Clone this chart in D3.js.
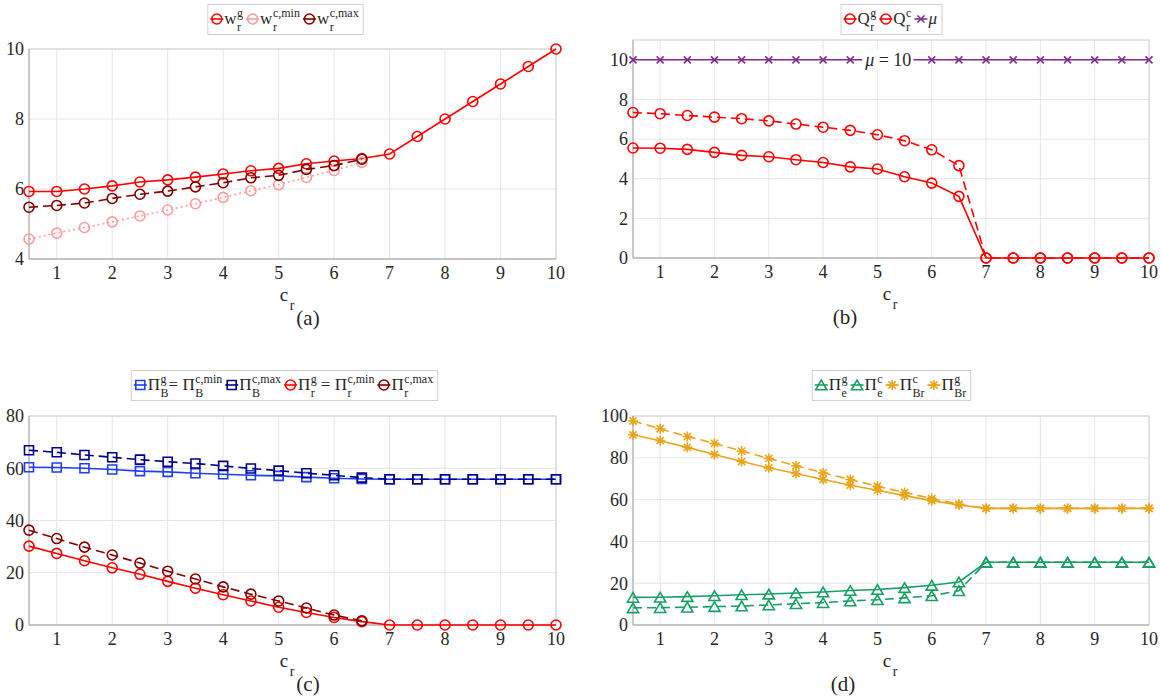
<!DOCTYPE html>
<html>
<head>
<meta charset="utf-8">
<title>Four panels vs c_r</title>
<style>
  body { margin: 0; background: #fff; font-family: "Liberation Serif", serif; }
  #chart text { font-family: "Liberation Serif", "DejaVu Serif", serif; fill: #262626; }
</style>
</head>
<body>
<svg id="chart" width="1161" height="700" font-family="Liberation Serif, serif"></svg>
<script src="https://d3js.org/d3.v7.min.js"></script>
<script>
// x values shared by every panel
var cr = [0.5,1,1.5,2,2.5,3,3.5,4,4.5,5,5.5,6,6.5,7,7.5,8,8.5,9,9.5,10];
var xTickVals = [1,2,3,4,5,6,7,8,9,10];

// (a) w_r
var wG    = [5.93,5.93,6.0,6.09,6.2,6.26,6.34,6.43,6.52,6.59,6.72,6.8,6.87,7.0,7.5,8,8.5,9,9.5,10];
var wCmin = [4.57,4.74,4.9,5.06,5.23,5.4,5.58,5.76,5.95,6.12,6.33,6.53,6.76];
var wCmax = [5.48,5.53,5.6,5.73,5.85,5.94,6.06,6.18,6.32,6.39,6.56,6.67,6.85];
var yTicksA = [4,6,8,10];

// (b) Q_r and mu
var qG = [5.55,5.54,5.48,5.33,5.18,5.11,4.96,4.82,4.6,4.49,4.1,3.78,3.11,0,0,0,0,0,0,0];
var qC = [7.34,7.28,7.19,7.11,7.03,6.92,6.76,6.6,6.44,6.22,5.92,5.46,4.66,0,0,0,0,0,0,0];
var mu = [10,10,10,10,10,10,10,10,10,10,10,10,10,10,10,10,10,10,10,10];
var yTicksB = [0,2,4,6,8,10];

// (c) profits
var piBg    = [60.4,60.3,60.0,59.5,58.9,58.6,58.1,57.7,57.3,57.1,56.6,56.2,55.9,55.8,55.8,55.8,55.8,55.8,55.8,55.8];
var piBcmax = [66.9,66.1,65.1,64.2,63.3,62.5,61.8,60.9,59.9,59.1,58.1,57.3,56.4,55.8,55.8,55.8,55.8,55.8,55.8,55.8];
var piRg    = [30.2,27.4,24.6,21.9,19.4,16.7,14.1,11.6,9.2,6.8,4.8,2.9,1.3,0,0,0,0,0,0,0];
var piRcmax = [36.3,33.1,29.8,26.8,23.7,20.6,17.6,14.6,11.8,9.2,6.5,3.8,1.6];
var yTicksC = [0,20,40,60,80];

// (d) profits
var piEg  = [13.2,13.3,13.6,14.0,14.5,14.8,15.3,15.8,16.5,17.0,17.9,19.0,20.6,30,30,30,30,30,30,30];
var piEc  = [8.2,8.3,8.5,8.8,9.1,9.6,10.2,10.7,11.5,12.1,13.0,14.0,16.4,30,30,30,30,30,30,30];
var piBrC = [97.6,93.9,90.2,86.9,83.2,79.7,76.2,72.8,69.6,66.4,63.4,60.5,57.8,55.8,55.8,55.8,55.8,55.8,55.8,55.8];
var piBrG = [91.0,88.2,85.0,81.6,78.2,75.2,72.5,69.6,66.9,64.5,61.9,59.5,57.4,55.8,55.8,55.8,55.8,55.8,55.8,55.8];
var yTicksD = [0,20,40,60,80,100];

var FONT = "'Liberation Serif', 'DejaVu Serif', serif";
var svg = d3.select("#chart");

var markerPaths = {
  circle: d3.symbol(d3.symbolCircle, Math.PI * 25)(),
  square: "M-4.5,-4.5h9v9h-9z",
  triangle: "M0,-4.8L5.6,4.8L-5.6,4.8Z",
  star: "M-5,0H5M0,-5V5M-3.6,-3.6L3.6,3.6M-3.6,3.6L3.6,-3.6",
  cross: "M-3.5,-3.5L3.5,3.5M-3.5,3.5L3.5,-3.5"
};

function dashOf(s) {
  if (s.dash == "dashed") return "9,5";
  if (s.dash == "dotted") return "2,3";
  return null;
}

function txt(sel, size) {
  return sel.append("text").style("font-family", FONT).style("font-size", size + "px").style("fill", "#262626");
}

function drawPanel(p) {
  var g = svg.append("g");
  var x = d3.scaleLinear().domain([0.5, 10]).range([p.left, p.right]);
  var y = d3.scaleLinear().domain(p.yDomain).range([p.bottom, p.top]);

  // grid
  g.selectAll(".gx").data(xTickVals).enter().append("line")
    .attr("x1", d => x(d)).attr("x2", d => x(d))
    .attr("y1", p.top).attr("y2", p.bottom)
    .attr("stroke", "#e6e6e6").attr("stroke-width", 1);
  g.selectAll(".gy").data(p.yTicks).enter().append("line")
    .attr("x1", p.left).attr("x2", p.right)
    .attr("y1", d => y(d)).attr("y2", d => y(d))
    .attr("stroke", "#e6e6e6").attr("stroke-width", 1);

  // frame
  g.append("rect")
    .attr("x", p.left).attr("y", p.top)
    .attr("width", p.right - p.left).attr("height", p.bottom - p.top)
    .attr("fill", "none").attr("stroke", "#d0d0d0");
  g.append("path")
    .attr("d", "M" + p.left + "," + p.top + "V" + p.bottom + "H" + p.right)
    .attr("fill", "none").attr("stroke", "#a8a8a8").attr("stroke-width", 1);

  // tick labels
  xTickVals.forEach(function(v) {
    txt(g, 18).attr("x", x(v)).attr("y", p.bottom + 20)
      .attr("text-anchor", "middle").text(v);
  });
  p.yTicks.forEach(function(v) {
    txt(g, 18).attr("x", p.left - 5).attr("y", y(v)).attr("dy", "0.35em")
      .attr("text-anchor", "end").text(v);
  });

  // series
  p.series.forEach(function(s) {
    var pts = s.values.map((v, i) => [cr[i], v]);
    g.append("path").datum(pts)
      .attr("d", d3.line().x(d => x(d[0])).y(d => y(d[1])))
      .attr("fill", "none").attr("stroke", s.color)
      .attr("stroke-width", 1.6)
      .attr("stroke-dasharray", dashOf(s));
    g.selectAll(null).data(pts).enter().append("path")
      .attr("transform", d => "translate(" + x(d[0]) + "," + y(d[1]) + ")")
      .attr("d", markerPaths[s.marker])
      .attr("fill", "none").attr("stroke", s.color).attr("stroke-width", 1.6);
  });

  // inline label on a line (mu = 10)
  if (p.lineLabel) {
    var lt = txt(g, 18)
      .attr("x", x(p.lineLabel.at)).attr("y", y(p.lineLabel.value)).attr("dy", "0.35em")
      .attr("text-anchor", "middle");
    lt.append("tspan").style("font-style", "italic").text("\u03bc");
    lt.append("tspan").text(" = 10");
    var bb = lt.node().getBBox();
    g.insert("rect", function() { return lt.node(); })
      .attr("x", bb.x - 2).attr("y", bb.y).attr("width", bb.width + 4).attr("height", bb.height)
      .attr("fill", "#fff");
  }

  // x label c_r and caption
  txt(g, 19).attr("x", p.labelX).attr("y", p.bottom + 42)
    .attr("text-anchor", "middle").text("c");
  txt(g, 14).attr("x", p.labelX + 8).attr("y", p.bottom + 51)
    .attr("text-anchor", "middle").text("r");
  txt(g, 21).attr("x", p.captionX).attr("y", p.bottom + 66)
    .attr("text-anchor", "middle").text(p.caption);

  drawLegend(p.legendX, p.legendTop, p.series);
}

function drawLegend(cx, top, series) {
  var lg = svg.append("g");
  var cur = 3;
  series.forEach(function(s, k) {
    if (k > 0) cur += 3;
    lg.append("line").attr("x1", cur).attr("x2", cur + 13).attr("y1", 15).attr("y2", 15)
      .attr("stroke", s.color).attr("stroke-width", 1.6);
    lg.append("path").attr("transform", "translate(" + (cur + 6.5) + ",15)")
      .attr("d", markerPaths[s.marker])
      .attr("fill", "none").attr("stroke", s.color).attr("stroke-width", 1.6);
    cur += 14;
    s.label.forEach(function(seg) {
      cur += seg.gap || 0;
      var t = txt(lg, 17).attr("x", cur).attr("y", 20)
        .style("font-style", seg.italic ? "italic" : null).text(seg.b);
      cur += t.node().getComputedTextLength() + 0.5;
      var w = 0;
      if (seg.sup) {
        var t1 = txt(lg, 12).attr("x", cur).attr("y", 13).text(seg.sup);
        w = Math.max(w, t1.node().getComputedTextLength());
      }
      if (seg.sub) {
        var t2 = txt(lg, 12).attr("x", cur).attr("y", 27).text(seg.sub);
        w = Math.max(w, t2.node().getComputedTextLength());
      }
      cur += w;
    });
  });
  var width = cur + 4;
  lg.insert("rect", ":first-child").attr("x", 0.5).attr("y", 0.5)
    .attr("width", width).attr("height", 30)
    .attr("fill", "#fff").attr("stroke", "#d0d0d0");
  lg.attr("transform", "translate(" + (cx - width / 2) + "," + top + ")");
}

var red = "#ff0000", pink = "#ff9c9c", darkRed = "#800000", purple = "#7e2f8e",
    blue = "#1f3ff0", navy = "#00008b", green = "#17a064", orange = "#eaa51c";

drawPanel({
  left: 29, right: 556, top: 49, bottom: 259, yDomain: [4, 10], yTicks: yTicksA,
  labelX: 284, captionX: 308, caption: "(a)", legendX: 285, legendTop: 4,
  series: [
    { values: wG, color: red, marker: "circle", label: [{ b: "w", sub: "r", sup: "g" }] },
    { values: wCmin, color: pink, marker: "circle", dash: "dotted", label: [{ b: "w", sub: "r", sup: "c,min" }] },
    { values: wCmax, color: darkRed, marker: "circle", dash: "dashed", label: [{ b: "w", sub: "r", sup: "c,max" }] }
  ]
});

drawPanel({
  left: 633, right: 1149, top: 40, bottom: 258, yDomain: [0, 11], yTicks: yTicksB,
  labelX: 887, captionX: 845, caption: "(b)", legendX: 891, legendTop: 4,
  lineLabel: { at: 5.2, value: 10 },
  series: [
    { values: qG, color: red, marker: "circle", label: [{ b: "Q", sub: "r", sup: "g" }] },
    { values: qC, color: red, marker: "circle", dash: "dashed", label: [{ b: "Q", sub: "r", sup: "c" }] },
    { values: mu, color: purple, marker: "cross", label: [{ b: "\u03bc", italic: true }] }
  ]
});

drawPanel({
  left: 29, right: 556, top: 416, bottom: 625, yDomain: [0, 80], yTicks: yTicksC,
  labelX: 284, captionX: 308, caption: "(c)", legendX: 284, legendTop: 370,
  series: [
    { values: piBg, color: blue, marker: "square",
      label: [{ b: "\u03a0", sub: "B", sup: "g" }, { b: "= \u03a0", sub: "B", sup: "c,min" }] },
    { values: piBcmax, color: navy, marker: "square", dash: "dashed",
      label: [{ b: "\u03a0", sub: "B", sup: "c,max" }] },
    { values: piRg, color: red, marker: "circle",
      label: [{ b: "\u03a0", sub: "r", sup: "g" }, { gap: 4, b: "= \u03a0", sub: "r", sup: "c,min" }] },
    { values: piRcmax, color: darkRed, marker: "circle", dash: "dashed",
      label: [{ b: "\u03a0", sub: "r", sup: "c,max" }] }
  ]
});

drawPanel({
  left: 633, right: 1149, top: 416, bottom: 625, yDomain: [0, 100], yTicks: yTicksD,
  labelX: 887, captionX: 843, caption: "(d)", legendX: 891, legendTop: 370,
  series: [
    { values: piEg, color: green, marker: "triangle", label: [{ b: "\u03a0", sub: "e", sup: "g" }] },
    { values: piEc, color: green, marker: "triangle", dash: "dashed", label: [{ b: "\u03a0", sub: "e", sup: "c" }] },
    { values: piBrC, color: orange, marker: "star", dash: "dashed", label: [{ b: "\u03a0", sub: "Br", sup: "c" }] },
    { values: piBrG, color: orange, marker: "star", label: [{ b: "\u03a0", sub: "Br", sup: "g" }] }
  ]
});
</script>
</body>
</html>
